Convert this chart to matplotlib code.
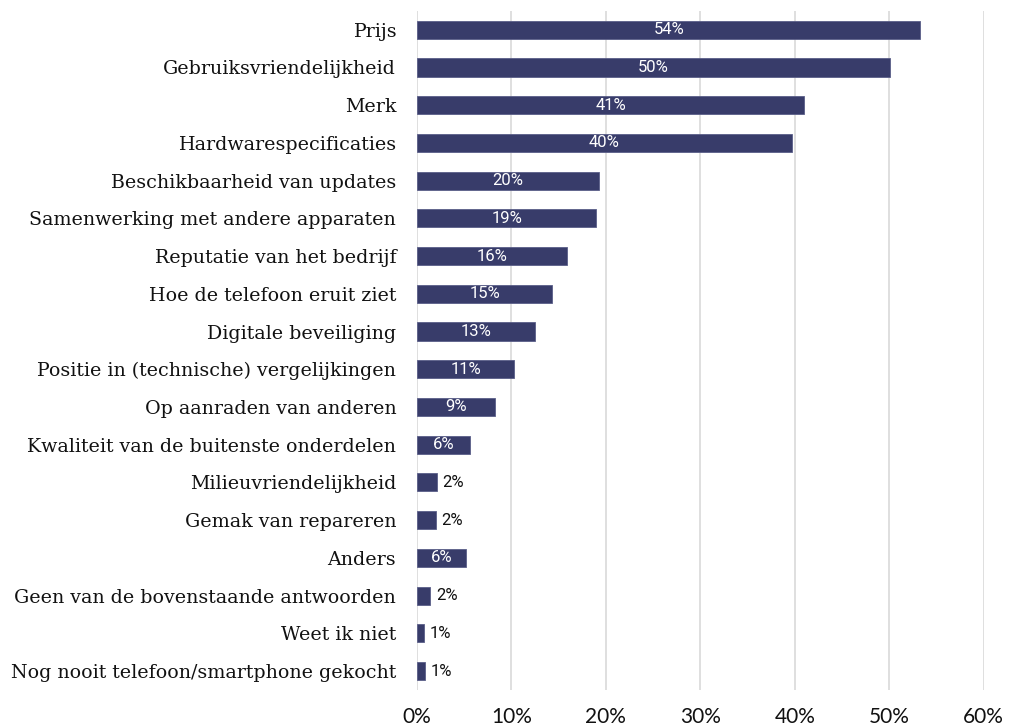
import matplotlib
matplotlib.use("Agg")
import matplotlib.pyplot as plt
from matplotlib.ticker import FuncFormatter

categories = [
    "Prijs",
    "Gebruiksvriendelijkheid",
    "Merk",
    "Hardwarespecificaties",
    "Beschikbaarheid van updates",
    "Samenwerking met andere apparaten",
    "Reputatie van het bedrijf",
    "Hoe de telefoon eruit ziet",
    "Digitale beveiliging",
    "Positie in (technische) vergelijkingen",
    "Op aanraden van anderen",
    "Kwaliteit van de buitenste onderdelen",
    "Milieuvriendelijkheid",
    "Gemak van repareren",
    "Anders",
    "Geen van de bovenstaande antwoorden",
    "Weet ik niet",
    "Nog nooit telefoon/smartphone gekocht",
]
values = [53.3, 50.1, 41.0, 39.7, 19.3, 19.0, 15.9, 14.3, 12.5, 10.3,
          8.3, 5.6, 2.1, 2.0, 5.2, 1.4, 0.7, 0.85]
value_labels = ["54%", "50%", "41%", "40%", "20%", "19%", "16%", "15%", "13%",
                "11%", "9%", "6%", "2%", "2%", "6%", "2%", "1%", "1%"]
inside = [True] * 12 + [False, False, True, False, False, False]

bar_color = "#383c6a"

fig = plt.figure(figsize=(10.11, 7.27), dpi=100)
ax = fig.add_axes([0.4125, 0.051, 0.5605, 0.934])

ypos = list(range(len(categories)))
ax.barh(ypos, values, height=0.48, color=bar_color, edgecolor="#5a5e88",
        linewidth=0.6, zorder=3)

for y, v, lab, ins in zip(ypos, values, value_labels, inside):
    if ins:
        ax.text(v / 2, y, lab, ha="center", va="center", color="white",
                fontsize=12, family=["Roboto", "DejaVu Sans"], zorder=4)
    else:
        ax.text(v + 0.6, y, lab, ha="left", va="center", color="#111111",
                fontsize=12, family=["Roboto", "DejaVu Sans"], zorder=4)

ax.set_xlim(0, 60)
ax.set_ylim(len(categories) - 0.5, -0.5)
ax.set_xticks([0, 10, 20, 30, 40, 50, 60])
ax.xaxis.set_major_formatter(FuncFormatter(lambda x, p: f"{int(x)}%"))
ax.set_yticks(ypos)
ax.set_yticklabels(categories, family=["DejaVu Serif"], fontsize=13.7,
                   color="#111111")
for t in ax.get_xticklabels():
    t.set_family(["Lato", "DejaVu Sans"])
    t.set_fontsize(15)
    t.set_color("#111111")

ax.tick_params(axis="y", length=0, pad=15)
ax.tick_params(axis="x", length=0, pad=12)
ax.grid(axis="x", color="#d9d9d9", linewidth=1.2, zorder=0)
for s in ax.spines.values():
    s.set_visible(False)

fig.savefig("out.png", dpi=100)
